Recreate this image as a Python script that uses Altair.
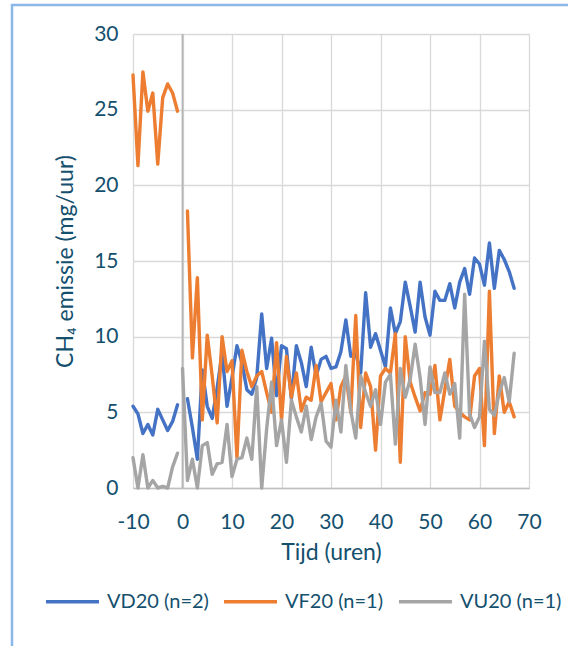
import altair as alt
import pandas as pd

# ---- data ----
hours_pre = [-10, -9, -8, -7, -6, -5, -4, -3, -2, -1]
hours_post = [1, 2, 3, 4, 5, 6, 7, 8, 9, 10, 11, 12, 13, 14, 15, 16, 17, 18, 19, 20,
              21, 22, 23, 24, 25, 26, 27, 28, 29, 30, 31, 32, 33, 34, 35, 36, 37, 38, 39, 40,
              41, 42, 43, 44, 45, 46, 47, 48, 49, 50, 51, 52, 53, 54, 55, 56, 57, 58, 59, 60,
              61, 62, 63, 64, 65, 66, 67]
hours_post_vu = [0] + hours_post

vd20_pre = [5.4, 4.9, 3.6, 4.2, 3.5, 5.2, 4.5, 3.8, 4.4, 5.5]
vf20_pre = [27.3, 21.3, 27.5, 24.9, 26.1, 21.4, 25.8, 26.7, 26.1, 24.9]
vu20_pre = [2.0, 0.0, 2.2, 0.0, 0.5, 0.0, 0.1, 0.0, 1.4, 2.3]

vd20_post = [5.9, 4.0, 1.9, 7.8, 5.4, 4.6, 6.6, 8.9, 5.4, 7.3,
             9.4, 8.3, 6.5, 6.2, 7.3, 11.5, 7.9, 9.9, 6.1, 9.4,
             9.2, 5.9, 9.4, 8.3, 6.7, 9.3, 7.4, 8.5, 8.7, 7.9,
             8.0, 9.0, 11.1, 8.7, 8.9, 7.6, 12.9, 9.3, 10.2, 9.1,
             8.0, 11.9, 10.2, 11.0, 13.6, 12.0, 10.3, 13.6, 11.3, 10.1,
             13.0, 12.4, 12.4, 13.5, 11.9, 13.6, 14.5, 12.8, 15.2, 14.8,
             13.4, 16.2, 13.2, 15.7, 15.1, 14.3, 13.2]
vf20_post = [18.3, 8.6, 13.9, 4.5, 10.1, 7.4, 4.3, 10.0, 7.7, 8.4,
             2.0, 9.1, 7.7, 6.7, 7.4, 7.7, 6.3, 5.0, 9.6, 4.5,
             8.7, 6.0, 7.6, 5.1, 6.0, 5.8, 8.1, 5.7, 6.3, 6.9,
             4.5, 6.7, 7.4, 5.0, 11.4, 4.0, 7.6, 6.7, 2.5, 7.4,
             7.9, 7.6, 10.2, 1.7, 10.0, 7.0, 6.0, 5.1, 6.3, 6.2,
             8.1, 4.5, 6.5, 8.5, 5.4, 5.0, 4.7, 4.5, 7.4, 7.9,
             2.8, 13.0, 3.6, 7.4, 5.0, 5.7, 4.7]
vu20_post = [7.9, 0.5, 1.9, 0.0, 2.8, 3.0, 0.9, 1.6, 1.7, 4.2, 0.75,
             1.9, 2.0, 3.3, 1.9, 6.7, 0.0, 3.9, 7.0, 2.8, 4.5,
             1.7, 5.8, 4.7, 3.7, 5.4, 3.2, 4.7, 5.6, 3.1, 2.7,
             5.8, 3.7, 8.1, 5.1, 3.3, 7.4, 6.3, 5.4, 6.5, 4.2,
             7.0, 7.5, 2.9, 7.9, 6.0, 7.2, 9.5, 7.3, 4.2, 8.0,
             6.3, 6.3, 7.6, 6.2, 6.9, 3.3, 12.8, 4.9, 4.0, 4.7,
             9.7, 5.2, 4.8, 6.3, 7.3, 5.7, 8.9]

series_names = ["VD20 (n=2)", "VF20 (n=1)", "VU20 (n=1)"]
series_colors = ["#4472C4", "#ED7D31", "#A5A5A5"]

x_ticks = [-10, 0, 10, 20, 30, 40, 50, 60, 70]
y_ticks = [0, 5, 10, 15, 20, 25, 30]

# ---- build table ----
rows = []
def add(name, seg, hours, vals):
    for h, v in zip(hours, vals):
        rows.append({"serie": name, "seg": name + seg, "tijd": h, "ch4": v})

add(series_names[0], "pre", hours_pre, vd20_pre)
add(series_names[0], "post", hours_post, vd20_post)
add(series_names[1], "pre", hours_pre, vf20_pre)
add(series_names[1], "post", hours_post, vf20_post)
add(series_names[2], "pre", hours_pre, vu20_pre)
add(series_names[2], "post", hours_post_vu, vu20_post)
df = pd.DataFrame(rows)

TEXT = "#14506E"
FONT = "Lato"
W, H = 396, 454

xscale = alt.Scale(domain=[-10, 70], nice=False)
yscale = alt.Scale(domain=[0, 30], nice=False)

lines = alt.Chart(df).mark_line(strokeWidth=3.4, strokeJoin="round", strokeCap="round").encode(
    x=alt.X("tijd:Q", scale=xscale,
            axis=alt.Axis(values=x_ticks, title="Tijd (uren)", grid=True, gridColor="#D9D9D9",
                          gridWidth=1.3, domain=True, domainColor="#BFBFBF", domainWidth=1.5,
                          ticks=False, labelPadding=23, titlePadding=9, labelFontSize=21,
                          titleFontSize=23, labelColor=TEXT, titleColor=TEXT,
                          labelExpr="datum.value + ''", labelFlush=False,
                          labelFont=FONT, titleFont=FONT, titleFontWeight="normal")),
    y=alt.Y("ch4:Q", scale=yscale,
            axis=alt.Axis(values=y_ticks, title="CH₄ emissie (mg/uur)", grid=True,
                          gridColor="#D9D9D9", gridWidth=1.3, domain=False, ticks=False,
                          labelPadding=15, titlePadding=16, labelFontSize=21, titleFontSize=23,
                          labelColor=TEXT, titleColor=TEXT, labelFont=FONT, titleFont=FONT,
                          labelFlush=False, titleFontWeight="normal")),
    color=alt.Color("serie:N", scale=alt.Scale(domain=series_names, range=series_colors),
                    legend=alt.Legend(title=None, orient="none", direction="horizontal",
                                      legendX=-89, legendY=539, symbolType="stroke",
                                      symbolSize=2809, symbolStrokeWidth=3.4,
                                      labelFontSize=20, labelColor=TEXT, labelFont=FONT,
                                      labelOffset=6, columnPadding=8)),
    detail="seg:N",
)

zero_line = alt.Chart(pd.DataFrame({"tijd": [0]})).mark_rule(color="#B4B4B4", strokeWidth=1.8).encode(
    x=alt.X("tijd:Q", scale=xscale)
)

frame = alt.Chart(pd.DataFrame({"a": [0]})).mark_rect(
    fill=None, stroke="#8AB8E8", strokeWidth=2.5, clip=False
).encode(
    x=alt.value(-121), x2=alt.value(500), y=alt.value(-29), y2=alt.value(700)
)

chart = alt.layer(zero_line, lines, frame).properties(
    width=W, height=H,
    padding={"left": 133, "top": 34, "right": 39, "bottom": 158},
    autosize=alt.AutoSizeParams(type="none"),
).configure_view(stroke=None).configure(background="white")

chart.save("out.html", embed_options={"renderer": "svg", "actions": False})
